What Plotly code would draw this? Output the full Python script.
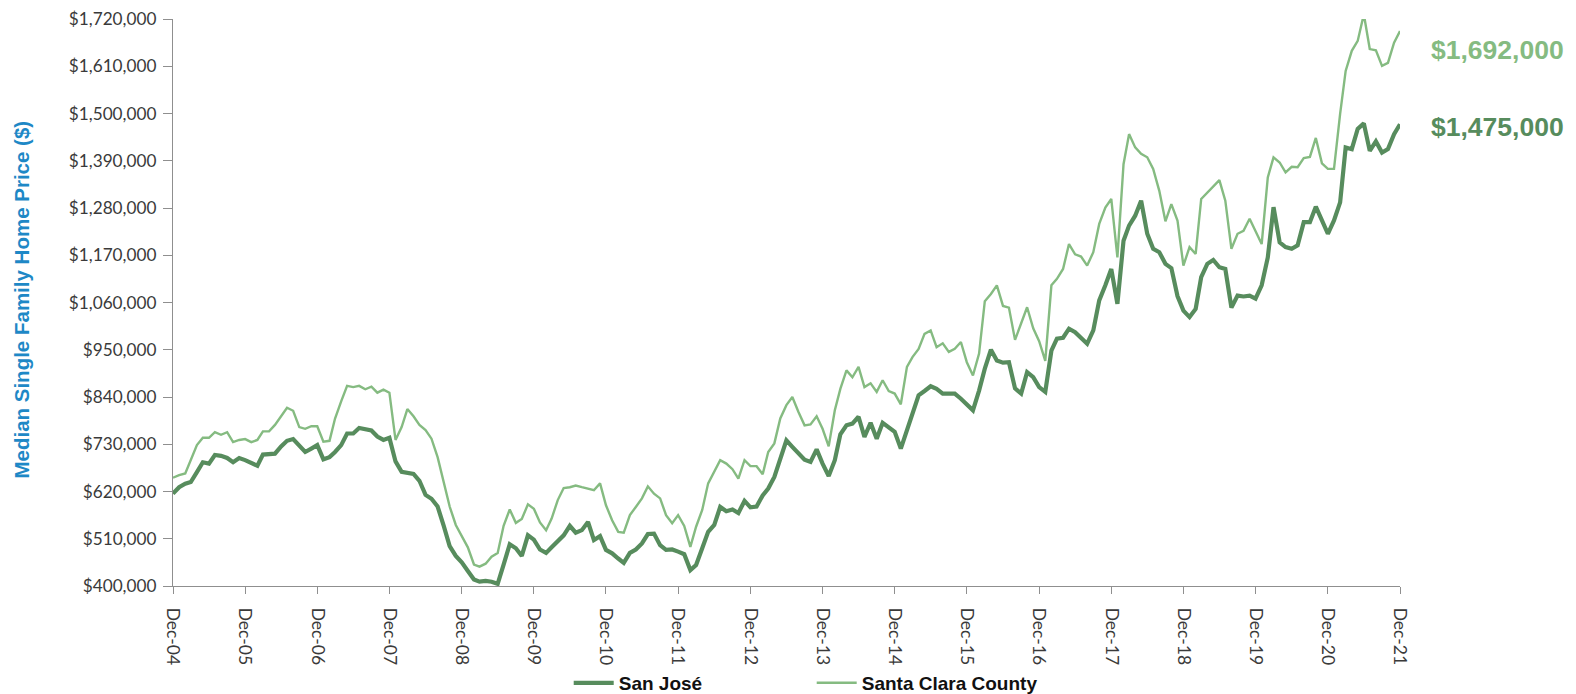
import pandas as pd
import plotly.graph_objects as go

# Monthly median single-family home price, Dec-2004 .. Dec-2021 (thousands of $)
months = pd.date_range("2004-12-01", "2021-12-01", freq="MS")

san_jose_k = [
    615, 630, 638, 642, 665, 688, 685, 705, 703, 698,
    688, 698, 693, 686, 680, 706, 708, 708, 725, 738,
    742, 728, 712, 720, 728, 695, 700, 712, 728, 755,
    755, 768, 766, 762, 748, 740, 745,
    690, 666, 664, 661, 645, 612, 603, 585, 540, 493,
    470, 455, 435, 415, 410, 412, 410, 405, 450, 497,
    488, 470, 518, 508, 485, 477, 490, 505, 518, 540,
    524, 530,
    549, 507, 516, 484, 476, 464, 454, 477, 485, 499,
    521, 522, 495, 484, 485, 480, 474, 437, 449, 488,
    526, 542, 584, 574, 578, 570, 598, 583, 585, 611,
    627, 654, 700, 739,
    724, 708, 694, 689, 718, 685, 656, 693, 753, 774,
    778, 794, 747, 780, 743, 780, 769, 759, 720, 763,
    805, 844, 854, 865, 859, 848, 848, 848, 836, 822,
    809, 855, 906, 950, 925,
    920, 921, 860, 848, 898, 886, 863, 852, 948, 976,
    978, 999, 991, 976, 964, 995, 1065, 1100, 1138, 1057,
    1204, 1239, 1262, 1297, 1220, 1185, 1177, 1150, 1140, 1075,
    1041, 1026, 1045, 1119,
    1150, 1159, 1142, 1138, 1048, 1076, 1074, 1076, 1069, 1100,
    1165, 1282, 1200, 1189, 1185, 1193, 1247, 1247, 1283, 1251,
    1220, 1251, 1293, 1421, 1417, 1464, 1477, 1413, 1435, 1409,
    1417, 1452, 1475,
]

santa_clara_k = [
    652, 658, 662, 695, 728, 745, 745, 758, 752, 758,
    735, 740, 742, 735, 740, 760, 760, 775, 795, 815,
    808, 770, 766, 772, 772, 736, 738, 790, 830, 866,
    863, 866, 858, 864, 850, 857, 850,
    740, 770, 812, 795, 775, 763, 743, 700, 640, 585,
    542, 515, 490, 450, 445, 452, 468, 477, 540, 578,
    547, 556, 590, 580, 548, 530, 557, 600, 628, 630,
    634, 630,
    627, 623, 639, 588, 553, 526, 524, 565, 584, 604,
    632, 615, 604, 565, 546, 565, 540, 491, 538, 577,
    639, 667, 693, 685, 672, 650, 693, 679, 679, 660,
    712, 732, 790, 821,
    840, 805, 774, 776, 795, 766, 725, 809, 859, 902,
    886, 910, 863, 872, 852, 879, 854, 848, 823, 910,
    933, 952, 987, 995, 956, 965, 945, 952, 968, 921,
    890, 941, 1063, 1080, 1100,
    1052, 1048, 973, 1011, 1049, 1000, 970, 924, 1100, 1115,
    1138, 1196, 1172, 1167, 1146, 1177, 1243, 1281, 1301, 1165,
    1382, 1452, 1421, 1406, 1398, 1371, 1320, 1249, 1289, 1251,
    1146, 1189, 1173, 1301,
    1316, 1332, 1345, 1297, 1185, 1220, 1227, 1255, 1227, 1196,
    1351, 1398, 1386, 1363, 1376, 1375, 1396, 1399, 1443, 1384,
    1371, 1371, 1499, 1599, 1646, 1669, 1731, 1650, 1647, 1611,
    1618, 1665, 1692,
]

series_names = ["San José", "Santa Clara County"]
end_labels = ["$1,475,000", "$1,692,000"]
y_title = "Median Single Family Home Price ($)"

san_jose = [v * 1000 for v in san_jose_k]
santa_clara = [v * 1000 for v in santa_clara_k]

DARK = "#578C5D"
LIGHT = "#85BB81"
AXIS = "#8F8F8F"
YTICKFONT = dict(family="Lato, Carlito, sans-serif", size=17.2, color="#3A3A3A")
XTICKFONT = dict(family="Lato, Carlito, sans-serif", size=17.5, color="#3A3A3A")
BOLD = "Liberation Sans, Arial, sans-serif"

fig = go.Figure()
fig.add_trace(go.Scatter(x=months, y=san_jose, mode="lines", name=series_names[0],
                         line=dict(color=DARK, width=4.2), cliponaxis=False))
fig.add_trace(go.Scatter(x=months, y=santa_clara, mode="lines", name=series_names[1],
                         line=dict(color=LIGHT, width=2.4), cliponaxis=False))

# the page body has an 8px margin, so the figure is 16px smaller than the window
fig.update_layout(
    width=1568, height=686,
    margin=dict(l=165, r=176, t=11, b=108, autoexpand=False),
    paper_bgcolor="white", plot_bgcolor="white",
    showlegend=True,
    legend=dict(orientation="h", x=0.3225, xanchor="left", y=-0.171, yanchor="middle",
                font=dict(family=BOLD, size=19, color="#111111", weight="bold"),
                itemwidth=40, entrywidth=188, entrywidthmode="pixels",
                bgcolor="rgba(0,0,0,0)", traceorder="normal"),
    xaxis=dict(
        type="date",
        range=[months[0], months[-1]],
        tick0=months[0], dtick="M12", tickformat="%b-%y",
        tickangle=90, ticks="outside", ticklen=7, tickcolor=AXIS, tickwidth=1,
        showline=True, linecolor=AXIS, linewidth=1.3,
        showgrid=False, zeroline=False, automargin=False,
        tickfont=XTICKFONT, ticklabelstandoff=10,
    ),
    yaxis=dict(
        range=[400000, 1720000], tick0=400000, dtick=110000,
        tickformat="$,.0f",
        ticks="outside", ticklen=9, tickcolor=AXIS, tickwidth=1,
        showline=True, linecolor=AXIS, linewidth=1.3,
        showgrid=False, zeroline=False, automargin=False,
        tickfont=YTICKFONT, ticklabelstandoff=3,
    ),
    annotations=[
        dict(text=y_title, xref="paper", yref="paper", x=-0.1235, y=0.506,
             xanchor="center", yanchor="middle", textangle=-90, showarrow=False,
             font=dict(family=BOLD, size=20.5, color="#1E88C6", weight="bold")),
        dict(text=end_labels[1], xref="paper", yref="paper", x=1.0235, y=0.945,
             xanchor="left", yanchor="middle", showarrow=False,
             font=dict(family=BOLD, size=26.5, color=LIGHT, weight="bold")),
        dict(text=end_labels[0], xref="paper", yref="paper", x=1.0235, y=0.8095,
             xanchor="left", yanchor="middle", showarrow=False,
             font=dict(family=BOLD, size=26.5, color=DARK, weight="bold")),
    ],
)

fig.write_html("out.html")
